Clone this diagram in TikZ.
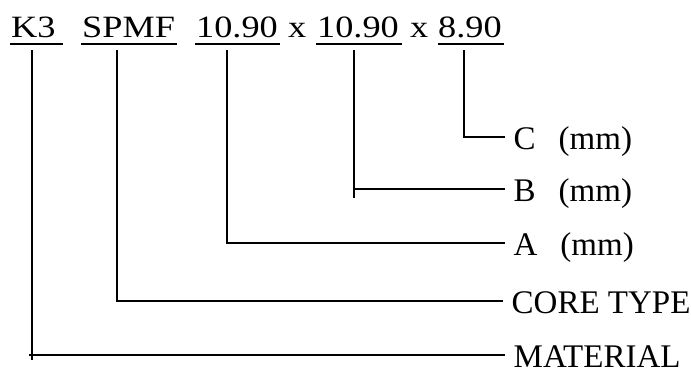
\documentclass[tikz,border=0pt]{standalone}
\usepackage{fontspec}
\setmainfont{Liberation Serif}
\tikzset{
  x=1pt, y=1pt,
  ln/.style={line width=2pt, line cap=butt},
  code/.style={anchor=base west, inner sep=0pt, font=\fontsize{31}{31}\selectfont},
  lab/.style={anchor=west, inner xsep=8.5pt, inner ysep=0pt, text height=25.4pt, text depth=0pt, font=\fontsize{33}{33}\selectfont},
}
\newcommand{\wide}[1]{\scalebox{1.17}[1]{#1}}
\begin{document}
\begin{tikzpicture}
\useasboundingbox (0,0) rectangle (691,-370);
% top code
\node[code] (k3) at (11,-37) {\wide{K3}};
\node[code] (spmf) at (82,-37) {\wide{SPMF}};
\node[code] (dA) at (196,-37) {\wide{10.90}};
\node[code] (x1) at (288,-37) {\wide{x}};
\node[code] (dB) at (317,-37) {\wide{10.90}};
\node[code] (x2) at (410,-37) {\wide{x}};
\node[code] (dC) at (438,-37) {\wide{8.90}};
% underlines
\draw[ln] (10,-44) -- (63,-44);
\draw[ln] (81,-44) -- (177,-44);
\draw[ln] (195,-44) -- (280,-44);
\draw[ln] (316,-44) -- (402,-44);
\draw[ln] (438,-44) -- (504,-44);
% labels
\node[lab] (lC) at (505,-137) {C\hspace{23pt}(mm)};
\node[lab] (lB) at (505,-188.5) {B\hspace{23pt}(mm)};
\node[lab] (lA) at (505,-242.5) {A\hspace{23pt}(mm)};
\node[lab] (lT) at (503,-301) {CORE TYPE};
\node[lab] (lM) at (505,-354.5) {MATERIAL};
% stems
\coordinate (sK) at (32,-50);
\coordinate (sS) at (117,-50);
\coordinate (sA) at (227,-50);
\coordinate (sB) at (354,-50);
\coordinate (sC) at (464,-50);
\draw[ln] (sC) |- (lC.west);
\draw[ln] (sB) -- (354,-198);
\draw[ln] (354,-188.5) -- (lB.west);
\draw[ln] (sA) |- (lA.west);
\draw[ln] (sS) |- (lT.west);
\draw[ln] (sK) -- (32,-359.5);
\draw[ln] (29,-354.5) -- (lM.west);
\end{tikzpicture}
\end{document}
